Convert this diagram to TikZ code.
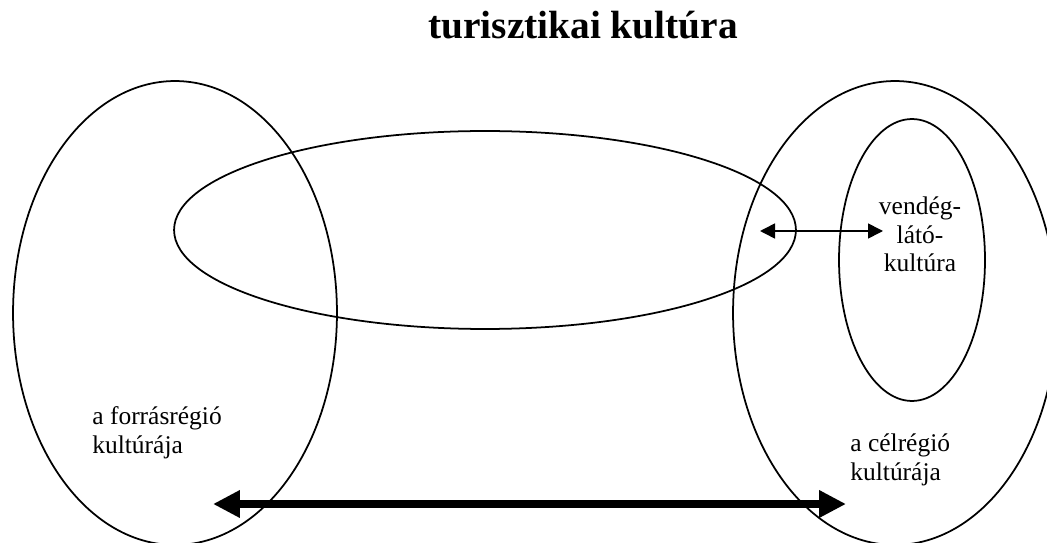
\documentclass[tikz,border=0pt]{standalone}
\usepackage{fontspec}
\setmainfont{Liberation Serif}
\usetikzlibrary{arrows.meta, shapes.geometric}
\tikzset{
  cultell/.style={ellipse,draw=black,line width=1pt,inner sep=0pt},
  lbltext/.style={font=\fontsize{14.5}{16.5}\selectfont,inner sep=0pt},
  hostlink/.style={{Triangle[length=0.3cm,width=0.3cm]}-{Triangle[length=0.3cm,width=0.3cm]},line width=0.9pt},
  tourlink/.style={{Triangle[length=0.54cm,width=0.52cm]}-{Triangle[length=0.54cm,width=0.52cm]},line width=5.1pt},
}
\begin{document}
\begin{tikzpicture}[x=0.02cm,y=-0.02cm]
  \clip (0,0) rectangle (1047,543);
  % regions
  \node[cultell,minimum width=6.48cm,minimum height=9.28cm] (src) at (175,313) {};
  \node[cultell,minimum width=6.48cm,minimum height=9.28cm] (dst) at (895,313) {};
  \node[cultell,minimum width=12.44cm,minimum height=3.96cm] (tour) at (485,230) {};
  \node[cultell,minimum width=2.92cm,minimum height=5.64cm] (host) at (912,260) {};
  % labels
  \node[anchor=base west,font=\bfseries\fontsize{22.4}{26}\selectfont,inner sep=0pt] (title) at (428,39) {turisztikai kultúra};
  \node[lbltext,align=left,anchor=base west] (srclbl) at (92,453) {a forrásrégió\\kultúrája};
  \node[lbltext,align=left,anchor=base west] (dstlbl) at (850,480) {a célrégió\\kultúrája};
  \node[lbltext,align=center,anchor=base] (hostlbl) at (920,272) {vendég-\\látó-\\kultúra};
  % arrows
  \coordinate (hl) at (760,231);
  \coordinate (hr) at (883,231);
  \coordinate (tl) at (213,504);
  \coordinate (tr) at (846,504);
  \draw[hostlink] (hl) -- (hr);
  \draw[tourlink] (tl) -- (tr);
\end{tikzpicture}
\end{document}
